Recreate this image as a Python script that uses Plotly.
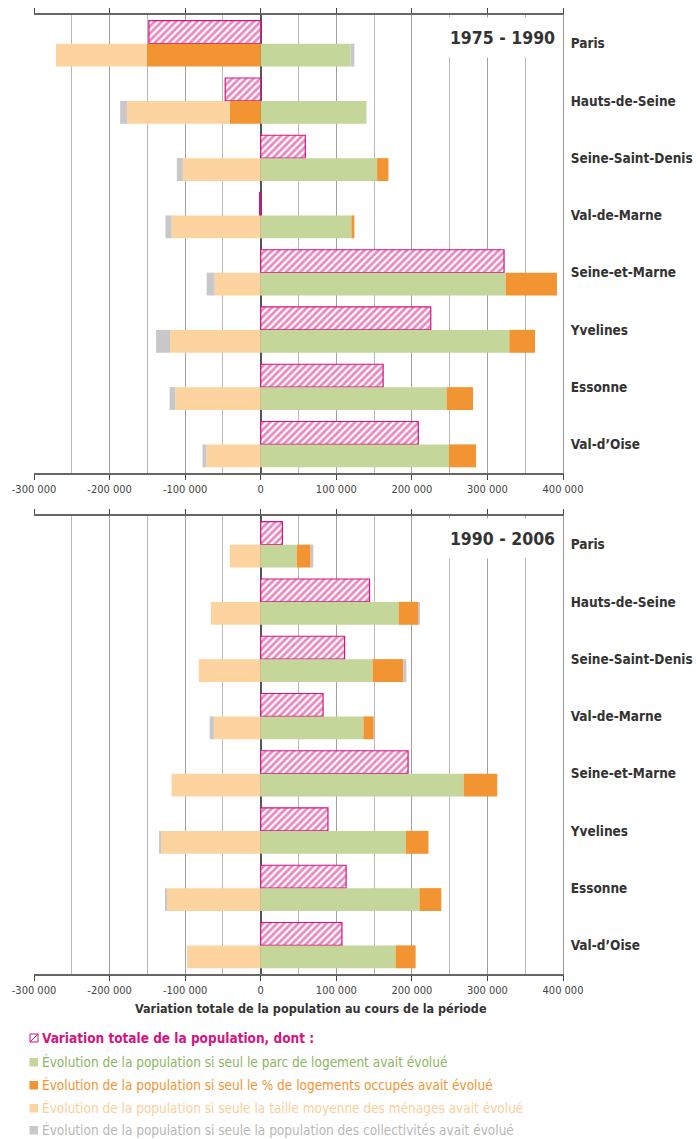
import plotly.graph_objects as go

# ---------------- data ----------------
departements = ["Paris", "Hauts-de-Seine", "Seine-Saint-Denis", "Val-de-Marne",
                "Seine-et-Marne", "Yvelines", "Essonne", "Val-d\u2019Oise"]
periodes = ["1975 - 1990", "1990 - 2006"]

# 1975 - 1990
total_75 = [-148000, -47000, 59000, -1500, 322000, 225000, 162000, 208500]
parc_75 = [119000, 140000, 154000, 120000, 324000, 329000, 246000, 249000]
occup_75 = [-151000, -41000, 15000, 4000, 68000, 34000, 35000, 36000]
taille_75 = [-120000, -136000, -103000, -118000, -61000, -120000, -113000, -72000]
collec_75 = [5000, -9000, -8000, -8000, -10500, -18500, -7500, -5000]

# 1990 - 2006
total_90 = [28700, 144000, 111000, 82500, 195000, 89000, 113000, 107500]
parc_90 = [47600, 182500, 148000, 136000, 268500, 192000, 210000, 178500]
occup_90 = [18500, 26500, 40700, 13500, 44500, 30000, 29000, 26500]
taille_90 = [-41000, -66000, -82000, -62000, -118000, -132700, -125000, -97500]
collec_90 = [3500, 1000, 4000, -5500, 0, -1000, -1000, 0]

tick_vals = [-300000, -200000, -100000, 0, 100000, 200000, 300000, 400000]
tick_text = ["-300 000", "-200 000", "-100 000", "0", "100 000", "200 000", "300 000", "400 000"]

axis_title = "Variation totale de la population au cours de la période"
legend_labels = [
    "Variation totale de la population, dont :",
    "Évolution de la population si seul le parc de logement avait évolué",
    "Évolution de la population si seul le % de logements occupés avait évolué",
    "Évolution de la population si seule la taille moyenne des ménages avait évolué",
    "Évolution de la population si seule la population des collectivités avait évolué",
]

# ---------------- styles ----------------
MAGENTA = "#d6137f"
GREEN = "#c5d69b"
ORANGE = "#f39433"
LORANGE = "#fdd49f"
GREY = "#c8c8c8"
stack_colors = [GREEN, ORANGE, LORANGE, GREY]
legend_text_colors = ["#d4147f", "#8cb560", "#f39433", "#fbcf9c", "#b8b8b8"]
FONT = "Liberation Sans Narrow, DejaVu Sans Condensed, Roboto Condensed, Arial Narrow, Liberation Sans, sans-serif"

W, H = 696, 1139
L, R, T, B = 34, 563, 15, 974  # plot area pixels


def px(x):
    return (x - L) / (R - L)


def py(y):
    return (B - y) / (B - T)


def stacked_bases(series_list):
    n = len(series_list[0])
    pos = [0] * n
    neg = [0] * n
    out = []
    for s in series_list:
        b = []
        for i, v in enumerate(s):
            if v >= 0:
                b.append(pos[i]); pos[i] += v
            else:
                b.append(neg[i]); neg[i] += v
        out.append(b)
    return out


fig = go.Figure()

panels = [
    (total_75, [parc_75, occup_75, taille_75, collec_75], "x", "y"),
    (total_90, [parc_90, occup_90, taille_90, collec_90], "x2", "y2"),
]

for total, stack, xa, ya in panels:
    fig.add_trace(go.Bar(
        y=departements, x=total, orientation="h", xaxis=xa, yaxis=ya,
        offset=-0.4, width=0.4,
        marker=dict(color="white", line=dict(color=MAGENTA, width=1.2),
                    pattern=dict(shape="/", fgcolor=MAGENTA, bgcolor="white",
                                 size=5, solidity=0.55)),
    ))
    bases = stacked_bases(stack)
    for s, b, c in zip(stack, bases, stack_colors):
        fig.add_trace(go.Bar(
            y=departements, x=s, base=b, orientation="h", xaxis=xa, yaxis=ya,
            offset=0, width=0.4, marker=dict(color=c, line=dict(width=0)),
        ))

xaxis_common = dict(
    range=[-300000, 400000], tickmode="array", tickvals=tick_vals, ticktext=tick_text,
    ticks="outside", ticklen=5, tickcolor="#444", tickwidth=1,
    showline=True, linecolor="#666", linewidth=1.5, mirror="ticks",
    showgrid=True, gridcolor="#a0a0a0", gridwidth=1,
    minor=dict(tickmode="linear", tick0=-300000, dtick=50000, showgrid=True,
               gridcolor="#b8b8b8", gridwidth=1, ticks=""),
    zeroline=True, zerolinecolor="#555", zerolinewidth=1.5,
    tickfont=dict(family=FONT, size=11, color="#444"),
    automargin=False, fixedrange=True,
)
yaxis_common = dict(
    type="category", categoryorder="array", categoryarray=departements,
    range=[7.5, -0.5], side="right", ticks="", showgrid=False, zeroline=False,
    showline=True, linecolor="#999", linewidth=1,
    tickfont=dict(family=FONT, size=13.5, color="#333", weight="bold"),
    ticklabelstandoff=4, automargin=False, fixedrange=True,
)

fig.update_layout(
    width=W, height=H,
    margin=dict(l=L, r=W - R, t=T, b=H - B, autoexpand=False),
    paper_bgcolor="white", plot_bgcolor="white",
    barmode="overlay", showlegend=False,
    xaxis=dict(**xaxis_common, anchor="y", domain=[0, 1]),
    yaxis=dict(**yaxis_common, anchor="x", domain=[py(473), 1]),
    xaxis2=dict(**xaxis_common, anchor="y2", domain=[0, 1]),
    yaxis2=dict(**yaxis_common, anchor="x2", domain=[0, py(516)]),
)

annotations = []
for label, ytop in zip(periodes, [16.5, 517.5]):
    annotations.append(dict(
        text="<b>%s</b>" % label, xref="paper", yref="paper",
        x=px(561), y=py(ytop), xanchor="right", yanchor="top",
        width=113, height=37, bgcolor="white", showarrow=False,
        font=dict(family=FONT, size=17.5, color="#333"), align="center", valign="middle",
    ))

annotations.append(dict(
    text="<b>%s</b>" % axis_title, xref="paper", yref="paper",
    x=px(311), y=py(1008), xanchor="center", yanchor="middle", showarrow=False,
    font=dict(family=FONT, size=12.5, color="#333"),
))

legend_y = [1038, 1062, 1085, 1108, 1130]
shapes = []
for i, (lab, col, ly) in enumerate(zip(legend_labels, legend_text_colors, legend_y)):
    annotations.append(dict(
        text=lab, xref="paper", yref="paper", x=px(40), y=py(ly),
        xanchor="left", yanchor="middle", showarrow=False,
        font=dict(family=FONT, size=13.5, color=col, weight="bold" if i == 0 else "normal"),
    ))
    sw = [None, GREEN, ORANGE, LORANGE, GREY][i]
    if sw is None:
        shapes.append(dict(type="rect", xref="paper", yref="paper",
                           x0=px(30), x1=px(38), y0=py(ly + 4), y1=py(ly - 4),
                           line=dict(color=MAGENTA, width=1), fillcolor="white"))
        shapes.append(dict(type="line", xref="paper", yref="paper",
                           x0=px(30), x1=px(38), y0=py(ly + 4), y1=py(ly - 4),
                           line=dict(color=MAGENTA, width=1)))
    else:
        shapes.append(dict(type="rect", xref="paper", yref="paper",
                           x0=px(29.5), x1=px(38), y0=py(ly + 4.5), y1=py(ly - 4),
                           line=dict(width=0), fillcolor=sw))

fig.update_layout(annotations=annotations, shapes=shapes)

fig.write_html(
    "out.html",
    config={"displayModeBar": False, "staticPlot": False},
    post_script="document.body.style.margin='0';document.body.style.padding='0';"
                "document.documentElement.style.overflow='hidden';",
)
